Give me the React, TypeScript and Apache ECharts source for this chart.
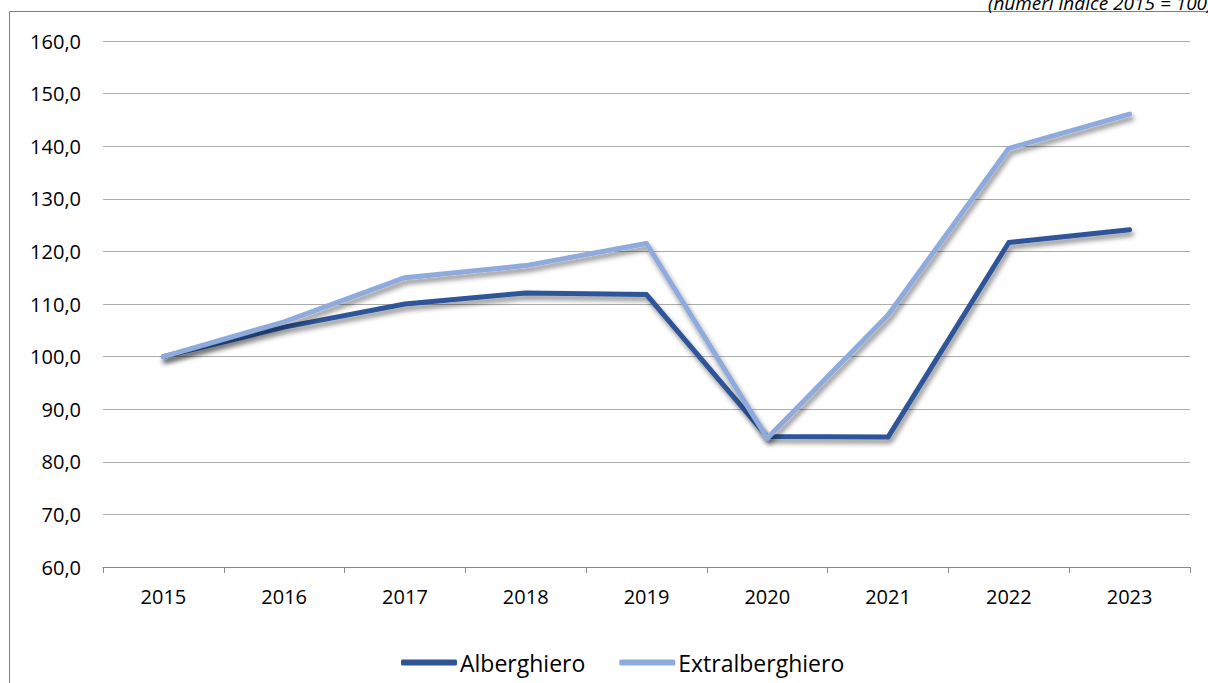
import React, { useEffect, useRef } from "react";
import * as echarts from "echarts";

const years = ["2015", "2016", "2017", "2018", "2019", "2020", "2021", "2022", "2023"];
const alberghiero = [100.0, 105.6, 110.0, 112.1, 111.8, 84.8, 84.7, 121.7, 124.1];
const extralberghiero = [100.0, 106.6, 115.0, 117.3, 121.5, 84.5, 107.9, 139.6, 146.1];
const seriesNames = ["Alberghiero", "Extralberghiero"];
const subtitle = "(numeri indice 2015 = 100)";

const FONT = "'Open Sans', sans-serif";

export default function App() {
  const ref = useRef<HTMLDivElement>(null);
  useEffect(() => {
    document.body.style.margin = "0";
    if (!ref.current) return;
    const chart = echarts.init(ref.current, undefined, { renderer: "svg" });
    const shadow = {
      shadowColor: "rgba(0,0,0,0.45)",
      shadowBlur: 5,
      shadowOffsetX: 2,
      shadowOffsetY: 4,
    };
    chart.setOption({
      animation: false,
      backgroundColor: "#ffffff",
      textStyle: { fontFamily: FONT },
      grid: { left: 103, right: 18, top: 41, bottom: 116, containLabel: false },
      graphic: [
        { type: "line", shape: { x1: 9.5, y1: 11.5, x2: 9.5, y2: 683 }, style: { stroke: "#7f7f7f", lineWidth: 1 } },
        { type: "line", shape: { x1: 9.5, y1: 11.5, x2: 1208, y2: 11.5 }, style: { stroke: "#7f7f7f", lineWidth: 1 } },
        {
          type: "text",
          x: 988,
          y: 12,
          style: {
            text: subtitle,
            fontFamily: FONT,
            fontStyle: "italic",
            fontSize: 19,
            fill: "#000",
            textAlign: "left",
            textVerticalAlign: "bottom",
          },
        },
      ],
      legend: {
        left: 396,
        top: 646,
        icon: "roundRect",
        itemWidth: 56,
        itemHeight: 6,
        itemGap: 34,
        textStyle: { fontFamily: FONT, fontSize: 23, color: "#000", padding: [0, 0, 0, -2] },
        data: seriesNames,
      },
      xAxis: {
        type: "category",
        data: years,
        boundaryGap: true,
        axisLine: { lineStyle: { color: "#898989", width: 1 } },
        axisTick: { show: true, length: 6, alignWithLabel: false, lineStyle: { color: "#898989" } },
        axisLabel: { color: "#000", fontFamily: FONT, fontSize: 20, margin: 19 },
        splitLine: { show: false },
      },
      yAxis: {
        type: "value",
        min: 60,
        max: 160,
        interval: 10,
        axisLine: { show: false },
        axisTick: { show: false },
        axisLabel: {
          color: "#000",
          fontFamily: FONT,
          fontSize: 20,
          margin: 22,
          formatter: (v: number) => v.toFixed(1).replace(".", ","),
        },
        splitLine: { lineStyle: { color: "#acacac", width: 1 } },
      },
      series: [
        {
          name: seriesNames[0],
          type: "line",
          data: alberghiero,
          symbol: "none",
          itemStyle: { color: "#2F5597" },
          lineStyle: { color: "#2F5597", width: 5, cap: "round", join: "round", ...shadow },
        },
        {
          name: seriesNames[1],
          type: "line",
          data: extralberghiero,
          symbol: "none",
          itemStyle: { color: "#8FAADC" },
          lineStyle: { color: "#8FAADC", width: 5, cap: "round", join: "round", ...shadow },
        },
      ],
    });
    return () => chart.dispose();
  }, []);
  return <div ref={ref} style={{ width: 1208, height: 683 }} />;
}
